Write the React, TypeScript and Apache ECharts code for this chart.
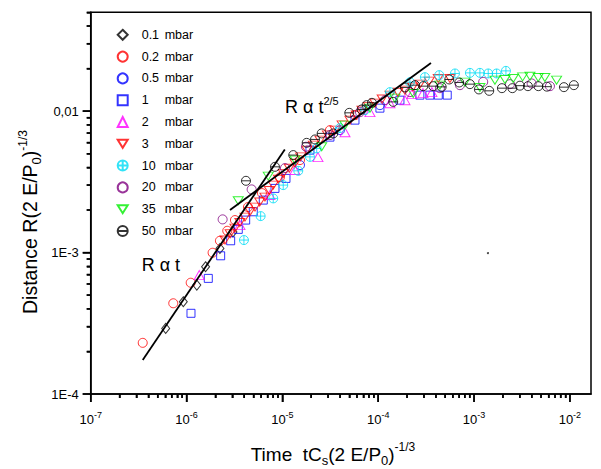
import React, { useEffect, useRef } from "react";
import * as echarts from "echarts";

const FONT = "'Liberation Sans', Arial, Helvetica, sans-serif";

const X_MIN = 1e-7;
const X_MAX = 0.0166;
const Y_MIN = 1e-4;
const Y_MAX = 0.05;

const xMajorTicks = [1e-7, 1e-6, 1e-5, 1e-4, 1e-3, 1e-2];
const xTickExponents = ["-7", "-6", "-5", "-4", "-3", "-2"];
const yMajorTicks = [1e-4, 1e-3, 1e-2];
const yTickLabels = ["1E-4", "1E-3", "0,01"];
const minorMultipliers = [2, 3, 4, 5, 6, 7, 8, 9];

const seriesNames = ["0.1 mbar", "0.2 mbar", "0.5 mbar", "1 mbar", "2 mbar", "3 mbar", "10 mbar", "20 mbar", "35 mbar", "50 mbar"];
const legendNumbers = ["0.1", "0.2", "0.5", "1", "2", "3", "10", "20", "35", "50"];
const seriesColors = ["#000000", "#ff0000", "#0000ff", "#0000ff", "#ff00ff", "#ff0000", "#00dcf5", "#800080", "#00ee00", "#000000"];

const SYM_DOWN = "path://M0,0L10,0L5,8Z";
const SYM_OPLUS = "path://M5,0A5,5 0 1,1 5,10A5,5 0 1,1 5,0ZM0,5L10,5M5,0L5,10";
const SYM_OMINUS = "path://M5,0A5,5 0 1,1 5,10A5,5 0 1,1 5,0ZM0,5L10,5";
const seriesSymbols = ["diamond", "circle", "circle", "rect", "triangle", SYM_DOWN, SYM_OPLUS, "circle", SYM_DOWN, SYM_OMINUS];
const seriesSizes: (number | number[])[] = [[8, 10], 9, 9, 8, [10, 9], [10, 8], 9, 9, [10, 8], 9];

// 0.1 mbar
const p01 = [[6.06e-7, 2.91e-4], [9.25e-7, 4.49e-4], [1.28e-6, 5.89e-4], [1.58e-6, 7.94e-4], [2.23e-6, 1.07e-3], [3.05e-6, 1.4e-3]];
// 0.2 mbar
const p02 = [[3.49e-7, 2.3e-4], [7.27e-7, 4.38e-4], [1.105e-6, 6.12e-4], [1.87e-6, 9.97e-4], [2.23e-6, 1.212e-3], [2.66e-6, 1.426e-3], [3.2e-6, 1.697e-3], [4.375e-6, 2.097e-3], [6.12e-6, 2.634e-3], [9.44e-6, 3.417e-3], [1.526e-5, 4.51e-3], [3.135e-5, 7.34e-3], [5.72e-5, 9.37e-3]];
// 0.5 mbar
const p05 = [[1.526e-5, 4.155e-3], [3.99e-5, 7.34e-3], [1.042e-4, 1.103e-2]];
// 1 mbar
const p1 = [[1.113e-6, 3.72e-4], [1.686e-6, 6.57e-4], [2.27e-6, 9.49e-4], [2.887e-6, 1.212e-3], [3.465e-6, 1.459e-3], [4.14e-6, 1.697e-3], [4.97e-6, 1.943e-3], [6.32e-6, 2.35e-3], [8.37e-6, 2.843e-3], [1.09e-5, 3.345e-3], [1.94e-5, 5.3e-3], [3.135e-5, 6.55e-3], [5.72e-5, 8.64e-3], [1.042e-4, 1.05e-2], [1.685e-4, 1.196e-2], [2.72e-4, 1.298e-2], [3.46e-4, 1.298e-2], [4.23e-4, 1.298e-2], [5.25e-4, 1.298e-2]];
// 2 mbar
const p2 = [[1.358e-6, 6.93e-4], [3.61e-6, 1.564e-3], [7.42e-6, 2.55e-3], [1.353e-5, 3.83e-3], [2.35e-5, 4.73e-3], [4.5e-5, 7.1e-3], [8.2e-5, 9.84e-3], [1.325e-4, 1.139e-2], [1.9e-4, 1.196e-2], [2.25e-4, 1.319e-2], [2.93e-4, 1.341e-2], [3.63e-4, 1.363e-2]];
// 3 mbar
const p3 = [[2.52e-6, 1.226e-3], [2.85e-6, 1.36e-3], [3.2e-6, 1.49e-3], [3.6e-6, 1.63e-3], [4.07e-6, 1.782e-3], [4.6e-6, 1.95e-3], [5.18e-6, 2.097e-3], [5.8e-6, 2.28e-3], [6.58e-6, 2.468e-3], [7.3e-6, 2.75e-3], [8.03e-6, 3.0e-3], [9.1e-6, 3.3e-3], [1.021e-5, 3.63e-3], [1.18e-5, 3.95e-3], [1.353e-5, 4.29e-3], [1.55e-5, 4.75e-3], [1.805e-5, 5.3e-3], [2.1e-5, 5.75e-3], [2.47e-5, 6.24e-3], [2.95e-5, 6.8e-3], [3.54e-5, 7.34e-3], [4.2e-5, 8.0e-3], [5.07e-5, 8.64e-3], [5.9e-5, 9.4e-3], [6.77e-5, 1.017e-2], [7.9e-5, 1.08e-2], [9.24e-5, 1.139e-2], [1.1e-4, 1.22e-2], [1.325e-4, 1.298e-2], [1.6e-4, 1.36e-2], [1.9e-4, 1.408e-2], [2.3e-4, 1.48e-2], [2.72e-4, 1.552e-2], [3.4e-4, 1.63e-2], [4.23e-4, 1.703e-2], [5.6e-4, 1.703e-2]];
// 10 mbar
const p10 = [[3.97e-6, 1.226e-3], [5.93e-6, 1.811e-3], [8.03e-6, 2.415e-3], [1.021e-5, 3.0e-3], [1.465e-5, 3.785e-3], [1.94e-5, 4.75e-3], [2.28e-5, 5.45e-3], [3.99e-5, 7.59e-3], [7.27e-5, 1.017e-2], [1.325e-4, 1.363e-2], [2.14e-4, 1.603e-2], [3.07e-4, 1.739e-2], [4.33e-4, 1.797e-2], [6.32e-4, 1.847e-2], [9.05e-4, 1.865e-2], [1.151e-3, 1.865e-2], [1.405e-3, 1.847e-2], [1.719e-3, 1.847e-2], [2.15e-3, 1.927e-2]];
// 20 mbar
const p20 = [[2.38e-6, 1.717e-3], [4.78e-6, 2.797e-3], [1.064e-5, 3.956e-3], [1.762e-5, 5.6e-3], [3.135e-5, 6.77e-3], [6.45e-5, 9.84e-3], [1.175e-4, 1.196e-2], [2.14e-4, 1.363e-2], [4.4e-4, 1.454e-2], [7.12e-4, 1.527e-2], [1.246e-3, 1.611e-2], [2.37e-3, 1.552e-2], [3.99e-3, 1.57e-2], [6.19e-3, 1.502e-2]];
// 35 mbar
const p35 = [[3.465e-6, 2.323e-3], [7.12e-6, 3.472e-3], [1.353e-5, 4.51e-3], [2.57e-5, 5.6e-3], [4.5e-5, 7.96e-3], [8.2e-5, 1.05e-2], [1.494e-4, 1.236e-2], [2.32e-4, 1.334e-2], [4.4e-4, 1.527e-2], [8.03e-4, 1.603e-2], [1.151e-3, 1.471e-2], [1.651e-3, 1.656e-2], [2.1e-3, 1.675e-2], [2.56e-3, 1.703e-2], [3.21e-3, 1.748e-2], [3.83e-3, 1.767e-2], [4.67e-3, 1.73e-2], [5.48e-3, 1.73e-2], [7.26e-3, 1.656e-2]];
// 50 mbar
const p50 = [[4.17e-6, 3.217e-3], [8.37e-6, 4.04e-3], [1.299e-5, 4.89e-3], [1.792e-5, 5.97e-3], [2.19e-5, 6.31e-3], [2.57e-5, 6.96e-3], [3.4e-5, 6.96e-3], [4.99e-5, 9.73e-3], [6.71e-5, 1.028e-2], [7.57e-5, 1.103e-2], [8.6e-5, 1.145e-2], [1.434e-4, 1.163e-2], [1.9e-4, 1.471e-2], [2.42e-4, 1.527e-2], [2.95e-4, 1.502e-2], [3.75e-4, 1.502e-2], [4.59e-4, 1.485e-2], [5.51e-4, 1.675e-2], [7.0e-4, 1.595e-2], [9.05e-4, 1.552e-2], [1.124e-3, 1.424e-2], [1.44e-3, 1.392e-2], [1.953e-3, 1.454e-2], [2.51e-3, 1.454e-2], [3.01e-3, 1.514e-2], [3.65e-3, 1.502e-2], [4.69e-3, 1.502e-2], [5.75e-3, 1.49e-2], [8.66e-3, 1.478e-2], [1.1e-2, 1.527e-2]];
// stray dot
const pStray = [[1.395e-3, 9.92e-4]];

const seriesData = [p01, p02, p05, p1, p2, p3, p10, p20, p35, p50];

// fitted guide lines
const lineLinear = [[3.49e-7, 1.74e-4], [1.06e-5, 5.36e-3]];
const lineTwoFifths = [[2.84e-6, 2.0e-3], [3.55e-4, 2.19e-2]];

function isPow10(v: number) {
  const l = Math.log10(v);
  return Math.abs(l - Math.round(l)) < 1e-6;
}
function majorIndex(list: number[], v: number) {
  const l = Math.round(Math.log10(v));
  return list.findIndex((t) => Math.round(Math.log10(t)) === l);
}

export default function App() {
  const ref = useRef<HTMLDivElement>(null);
  useEffect(() => {
    const chart = echarts.init(ref.current!, null, { renderer: "svg" });

    // tick value lists
    const xMinor: number[] = [];
    xMajorTicks.forEach((d) => minorMultipliers.forEach((m) => { if (d * m <= X_MAX) xMinor.push(d * m); }));
    const yMinor: number[] = [];
    yMajorTicks.forEach((d) => minorMultipliers.forEach((m) => { if (d * m <= Y_MAX) yMinor.push(d * m); }));
    // values given both as raw values and as log10 exponents: whichever space the scale uses,
    // the other set falls outside the extent and is dropped
    const both = (list: number[]) => [...list, ...list.map((v) => Math.log10(v))];

    const scatterSeries = seriesData.map((data, i) => ({
      name: seriesNames[i],
      type: "scatter",
      data,
      symbol: seriesSymbols[i],
      symbolSize: seriesSizes[i],
      itemStyle: { color: "rgba(0,0,0,0)", borderColor: seriesColors[i], borderWidth: 1 },
      emphasis: { disabled: true },
      silent: true,
      z: 2,
    }));

    const lineSeries = (data: number[][]) => ({
      type: "line",
      data,
      symbol: "none",
      silent: true,
      lineStyle: { color: "#000", width: 1.8 },
      z: 4,
    });

    const txt = (size: number, extra: any = {}) => ({ fontSize: size, fontFamily: FONT, color: "#000", ...extra });

    const textGraphics: any[] = [
      {
        id: "ann1",
        type: "text",
        x: 141.7,
        y: 265,
        style: { text: "R α t", fontSize: 18, fontFamily: FONT, fill: "#000", align: "left", verticalAlign: "middle" },
      },
      {
        id: "ann2",
        type: "text",
        x: 285,
        y: 107,
        style: {
          text: "{m|R α t}{s|2/5}",
          fill: "#000",
          align: "left",
          verticalAlign: "middle",
          rich: {
            m: { fontSize: 18, fontFamily: FONT, lineHeight: 24, fill: "#000" },
            s: { fontSize: 11, fontFamily: FONT, lineHeight: 8, verticalAlign: "top", fill: "#000" },
          },
        },
      },
      {
        id: "xtitle",
        type: "text",
        x: 333,
        y: 454,
        style: {
          text: "{m|Time  tC}{d|s}{m|(2 E/P}{d|0}{m|)}{u|-1/3}",
          fill: "#000",
          align: "center",
          verticalAlign: "middle",
          rich: {
            m: { fontSize: 19, fontFamily: FONT, lineHeight: 26, fill: "#000" },
            d: { fontSize: 13, fontFamily: FONT, lineHeight: 11, verticalAlign: "bottom", fill: "#000" },
            u: { fontSize: 12, fontFamily: FONT, lineHeight: 8, verticalAlign: "top", fill: "#000" },
          },
        },
      },
      {
        id: "ytitle",
        type: "text",
        x: 30,
        y: 222,
        rotation: Math.PI / 2,
        style: {
          text: "{m|Distance R(2 E/P}{d|0}{m|)}{u|-1/3}",
          fill: "#000",
          align: "center",
          verticalAlign: "middle",
          rich: {
            m: { fontSize: 19.5, fontFamily: FONT, lineHeight: 26, fill: "#000" },
            d: { fontSize: 13, fontFamily: FONT, lineHeight: 11, verticalAlign: "bottom", fill: "#000" },
            u: { fontSize: 12, fontFamily: FONT, lineHeight: 8, verticalAlign: "top", fill: "#000" },
          },
        },
      },
    ];

    const tickLine = { color: "#000", width: 1.5 };

    const option: any = {
      animation: false,
      backgroundColor: "#fff",
      grid: {
        left: 90.7,
        top: 12.3,
        right: 10,
        bottom: 75,
        show: true,
        borderColor: "#000",
        borderWidth: 1.5,
        containLabel: false,
        outerBoundsMode: "none",
      },
      xAxis: [
        {
          type: "log",
          logBase: 10,
          min: X_MIN,
          max: X_MAX,
          position: "bottom",
          axisLine: { show: true, lineStyle: { color: "#000", width: 1.5 } },
          axisTick: { show: true, length: 8, customValues: both(xMajorTicks), lineStyle: tickLine },
          splitLine: { show: false },
          minorTick: { show: false },
          axisLabel: {
            margin: 16,
            showMinLabel: true,
            showMaxLabel: true,
            hideOverlap: false,
            formatter: (v: number) => {
              if (!isPow10(v)) return "";
              const i = majorIndex(xMajorTicks, v);
              return i < 0 ? "" : `{b|10}{s|${xTickExponents[i]}}`;
            },
            rich: {
              b: txt(13, { lineHeight: 18 }),
              s: txt(9, { lineHeight: 8, verticalAlign: "top" }),
            },
          },
        },
        {
          type: "log",
          logBase: 10,
          min: X_MIN,
          max: X_MAX,
          gridIndex: 0,
          position: "bottom",
          offset: 0,
          axisLine: { show: false },
          axisTick: { show: true, length: 4, customValues: both(xMinor), lineStyle: tickLine },
          axisLabel: { show: false },
          splitLine: { show: false },
          minorTick: { show: false },
        },
      ],
      yAxis: [
        {
          type: "log",
          logBase: 10,
          min: Y_MIN,
          max: Y_MAX,
          position: "left",
          axisLine: { show: true, lineStyle: { color: "#000", width: 1.5 } },
          axisTick: { show: true, length: 8, customValues: both(yMajorTicks), lineStyle: tickLine },
          splitLine: { show: false },
          minorTick: { show: false },
          axisLabel: {
            margin: 12,
            fontSize: 13,
            fontFamily: FONT,
            color: "#000",
            hideOverlap: false,
            formatter: (v: number) => {
              if (!isPow10(v)) return "";
              const i = majorIndex(yMajorTicks, v);
              return i < 0 ? "" : yTickLabels[i];
            },
          },
        },
        {
          type: "log",
          logBase: 10,
          min: Y_MIN,
          max: Y_MAX,
          gridIndex: 0,
          position: "left",
          offset: 0,
          axisLine: { show: false },
          axisTick: { show: true, length: 4, customValues: both(yMinor), lineStyle: tickLine },
          axisLabel: { show: false },
          splitLine: { show: false },
          minorTick: { show: false },
        },
      ],
      legend: {
        orient: "vertical",
        left: 116.7,
        top: 28.3,
        padding: 0,
        itemWidth: 10,
        itemHeight: 10,
        itemGap: 8.8,
        selectedMode: false,
        data: seriesNames,
        formatter: (name: string) => `{a|${legendNumbers[seriesNames.indexOf(name)]}}{b|mbar}`,
        textStyle: {
          fontSize: 12.5,
          fontFamily: FONT,
          color: "#000",
          rich: {
            a: txt(12.5, { width: 23, padding: [0, 0, 0, 9], lineHeight: 10 }),
            b: txt(12.5, { lineHeight: 10 }),
          },
        },
      },
      series: [
        ...scatterSeries,
        {
          type: "scatter",
          data: pStray,
          symbol: "circle",
          symbolSize: 2,
          itemStyle: { color: "#000" },
          silent: true,
          z: 2,
        },
        lineSeries(lineLinear),
        lineSeries(lineTwoFifths),
      ],
      graphic: textGraphics,
    };

    chart.setOption(option);

    // same ticks also as thin filled rects, placed through the chart's own log scales
    const tickEls: any[] = [];
    const W = 1.5;
    const addX = (v: number, len: number, id: string) => {
      const p = chart.convertToPixel({ gridIndex: 0 }, [v, Y_MIN]) as number[];
      if (!p || isNaN(p[0])) return;
      tickEls.push({
        id,
        type: "rect",
        shape: { x: p[0] - W / 2, y: p[1], width: W, height: len },
        style: { fill: "#000" },
      });
    };
    const addY = (v: number, len: number, id: string) => {
      const p = chart.convertToPixel({ gridIndex: 0 }, [X_MIN, v]) as number[];
      if (!p || isNaN(p[1])) return;
      tickEls.push({
        id,
        type: "rect",
        shape: { x: p[0] - len, y: p[1] - W / 2, width: len, height: W },
        style: { fill: "#000" },
      });
    };
    xMajorTicks.forEach((d, i) => addX(d, 8, `xM${i}`));
    xMinor.forEach((v, i) => addX(v, 4, `xm${i}`));
    yMajorTicks.forEach((d, i) => addY(d, 8, `yM${i}`));
    yMinor.forEach((v, i) => addY(v, 4, `ym${i}`));
    chart.setOption({ graphic: [...textGraphics, ...tickEls] });

    return () => chart.dispose();
  }, []);

  return (
    <div
      ref={ref}
      style={{ position: "fixed", left: 0, top: 0, width: 601, height: 469, background: "#fff" }}
    />
  );
}
